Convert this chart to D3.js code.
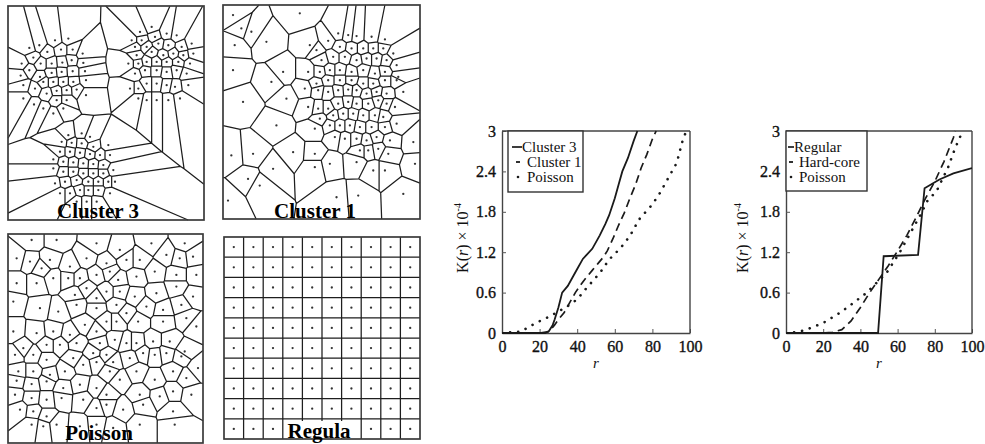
<!DOCTYPE html>
<html><head><meta charset="utf-8">
<script src="https://cdn.jsdelivr.net/npm/d3@7"></script>
<style>
body{margin:0;background:#fff}
svg{display:block}
text{font-family:"Liberation Serif","Times New Roman",serif;fill:#111}
</style>
</head><body>
<svg id="c" width="985" height="444"></svg>
<script>
// ---------- point patterns (units: digitised sheet coordinates) ----------
const cluster3Points = [
[88,143],[118,135],[165,120],[205,115],[142,155],[183,148],[218,148],[248,160],
[65,190],[100,172],[122,190],[155,190],[187,187],[215,180],[250,188],
[88,210],[120,230],[155,218],[185,215],[218,213],[255,213],
[62,226],[70,255],[105,265],[130,245],[160,245],[190,245],[220,245],[258,240],
[140,280],[170,272],[200,270],[230,268],[258,285],
[70,295],[102,313],[130,325],[170,300],[200,300],[160,340],[190,325],
[420,95],[455,80],[425,120],[465,110],[500,100],[530,105],[395,120],
[405,140],[440,140],[475,130],[505,135],[545,140],[575,130],
[410,165],[455,155],[490,165],[520,160],[550,165],[580,160],
[385,190],[415,190],[440,185],[470,185],[500,185],[535,185],[570,190],
[405,220],[435,210],[470,210],[500,215],[530,210],[560,220],
[390,265],[415,265],[440,250],[470,250],[500,255],[525,260],[565,255],
[415,295],[440,300],[470,300],[505,300],[540,295],
[245,400],[270,410],[205,405],
[185,425],[215,428],[245,430],[280,440],[325,435],
[180,455],[210,455],[240,458],[270,462],[300,465],[330,465],
[160,478],[190,485],[220,487],[250,490],[280,492],[310,495],
[160,505],[190,515],[220,515],[250,520],[280,520],[310,520],[340,510],
[165,550],[195,545],[230,540],[265,545],[295,545],[325,545],[345,545],
[180,580],[210,580],[240,570],[265,570],[295,570],[330,580],
[230,605],[260,605],[290,605]
];
const cluster1Points = [
[40,45],[240,40],[65,85],[95,95],[45,135],[140,125],[190,215],[40,210],[155,245],
[70,305],[200,295],[170,375],[35,465],[100,460],[220,455],[160,505],[120,555],
[85,535],[25,600],[285,500],[330,490],[350,590],[410,485],[460,510],[495,510],
[580,425],[585,490],[415,585],[550,580],[285,460],
[355,100],[385,105],[410,108],[455,110],[495,118],
[270,135],[325,122],[290,150],[360,140],[395,145],[430,145],[460,145],[490,145],[520,160],
[305,180],[340,170],[375,170],[410,180],[440,175],[470,175],[500,180],[530,195],
[265,215],[300,215],[330,210],[360,210],[395,215],[430,210],[465,220],[495,215],[535,230],
[255,265],[290,250],[325,240],[360,240],[395,240],[430,250],[460,250],[495,240],[530,240],
[295,270],[325,275],[355,270],[385,268],[410,270],[440,280],[470,275],[500,280],[550,275],
[265,320],[295,325],[325,325],[355,310],[385,305],[410,310],[445,310],[475,300],[500,310],[525,320],
[300,355],[340,345],[370,340],[400,340],[430,345],[465,345],[490,350],
[285,385],[330,375],[360,375],[390,375],[420,380],[455,380],[495,380],[530,370],
[345,410],[375,415],[410,415],[440,420],[470,410],[510,420],
[420,450],[445,450],[475,445],[505,460]
];
const poissonPoints = [
[95,45],[170,45],[290,55],[360,75],[455,55],[555,55],
[50,100],[90,110],[150,105],[210,125],[260,100],[320,115],[380,105],[420,105],[500,90],[540,100],[580,95],
[125,130],[160,160],[205,160],[240,160],[290,150],[330,140],[355,165],[410,155],[465,140],[530,150],[590,150],
[50,175],[110,175],[225,210],[260,190],[290,220],[320,200],[360,200],[405,215],[470,205],[530,185],[580,215],
[40,230],[120,250],[175,260],[230,240],[290,250],[350,240],[380,265],[440,245],[490,255],[545,240],
[40,320],[110,325],[160,320],[210,330],[255,300],[290,320],[320,290],[350,290],[415,290],[490,290],[560,280],[590,305],
[70,370],[140,360],[180,360],[230,355],[300,355],
[345,345],[380,355],[410,355],[460,350],[510,350],[555,380],
[45,390],[100,390],[140,405],[220,400],[280,385],[320,390],[340,412],[390,400],[430,385],[465,390],[500,385],[545,395],[595,430],
[55,440],[100,440],[150,450],[195,440],[250,420],[290,412],[330,440],[360,465],[410,440],[465,465],[520,440],[560,460],
[50,468],[95,478],[140,470],[190,490],[240,480],[290,490],[320,510],[420,510],[480,515],[520,500],[575,510],
[45,510],[95,520],[140,525],[185,520],[250,525],[290,550],[320,540],[370,555],[430,540],[520,560],
[60,555],[100,560],[140,575],[95,600],[130,605],[170,600],[240,605],[290,600],[340,610],[420,600],[525,600]
];
const regularCols = [0.5,1.5,2.5,3.5,4.5,5.5,6.5,7.5,8.5,9.5];
const regularRows = [0.5,1.5,2.5,3.5,4.5,5.5,6.5,7.5,8.5,9.5];

const panelLabels = ["Cluster 3","Cluster 1","Poisson","Regula"];

// ---------- K-function curves ----------
const rC3 = [0,10,20,23,25,27,28,30,32,35,38,40,43,45,48,52,55,57,60,62,64,67,70,72];
const kC3 = [0,0,0,0,0.03,0.12,0.2,0.38,0.6,0.7,0.85,0.95,1.1,1.16,1.25,1.45,1.62,1.75,2.0,2.2,2.4,2.6,2.85,3.0];
const rC1 = [0,10,20,25,28,30,33,36,39,42,45,48,51,54,56,59,62,65,68,71,74,77,80,82];
const kC1 = [0,0,0,0.02,0.12,0.2,0.3,0.45,0.6,0.72,0.83,0.93,1.03,1.13,1.22,1.4,1.6,1.78,2.0,2.2,2.45,2.65,2.88,3.0];
const rP1 = [0,10,18,25,30,35,40,45,52,57,63,68,73,80,84,88,93,96,98];
const kP1 = [0,0.02,0.15,0.24,0.32,0.4,0.5,0.67,0.89,1.09,1.26,1.44,1.69,1.91,2.08,2.28,2.53,2.85,3.0];

const rReg = [0,49.5,52.5,71,74.5,82.5,90,100];
const kReg = [0,0,1.14,1.16,2.15,2.28,2.37,2.45];
const rHC = [0,20,25,30,35,40,45,50,55,60,65,70,75,80,85,90,91];
const kHC = [0,0,0.01,0.05,0.18,0.38,0.6,0.8,1.0,1.22,1.45,1.72,2.0,2.25,2.55,2.9,3.0];
const rP2 = [0,5,10,20,29,34,43,54,61,72,76,81,87,91,95];
const kP2 = [0,0.01,0.04,0.15,0.3,0.4,0.59,0.89,1.19,1.74,1.96,2.11,2.45,2.75,3.0];

const xTicks = [0,20,40,60,80,100];
const yTicks = [0,0.6,1.2,1.8,2.4,3];
const yTickLabels = ["0","0.6","1.2","1.8","2.4","3"];
const legend1 = ["Cluster 3","Cluster 1","Poisson"];
const legend2 = ["Regular","Hard-core","Poisson"];

const svg = d3.select("#c");

// ---------- Voronoi panels ----------
function voronoiPanel(points, dom, box, label, bg) {
  const x = d3.scaleLinear().domain(dom.x).range([box.x0, box.x1]);
  const y = d3.scaleLinear().domain(dom.y).range([box.y0, box.y1]);
  const pts = points.map(p => [x(p[0]), y(p[1])]);
  const vor = d3.Delaunay.from(pts).voronoi([box.x0, box.y0, box.x1, box.y1]);
  const g = svg.append("g");
  g.append("path").attr("d", vor.render()).attr("fill","none")
    .attr("stroke","#1e1e1e").attr("stroke-width",1.25);
  g.append("rect").attr("x",box.x0).attr("y",box.y0)
    .attr("width",box.x1-box.x0).attr("height",box.y1-box.y0)
    .attr("fill","none").attr("stroke","#3a3a3a").attr("stroke-width",1.7);
  g.selectAll("circle").data(pts).join("circle")
    .attr("cx",d=>d[0]).attr("cy",d=>d[1]).attr("r",1.15).attr("fill","#333");
  const t = g.append("text").attr("x",box.lx).attr("y",box.ly)
    .attr("text-anchor","middle").attr("font-size",21).attr("font-weight","bold")
    .style("fill","#000").text(label);
  if (bg) {
    const bb = t.node().getBBox();
    g.insert("rect", "text").attr("x",bb.x-2).attr("y",bb.y+2)
      .attr("width",bb.width+4).attr("height",box.y1-bb.y-3).attr("fill","#fff");
  }
}

voronoiPanel(cluster3Points, {x:[24,612], y:[17,660]},
  {x0:8,x1:204,y0:6,y1:220,lx:98,ly:218}, panelLabels[0]);
voronoiPanel(cluster1Points, {x:[10,600], y:[15,655]},
  {x0:223,x1:420,y0:5,y1:219,lx:315,ly:218}, panelLabels[1]);
voronoiPanel(poissonPoints, {x:[24,610], y:[27,655]},
  {x0:8,x1:203,y0:234,y1:443,lx:99,ly:440}, panelLabels[2]);
const regPts = [];
regularRows.forEach(r => regularCols.forEach(c => regPts.push([c, r])));
voronoiPanel(regPts, {x:[0,10], y:[0,10]},
  {x0:224,x1:420,y0:237,y1:439,lx:319,ly:438}, panelLabels[3], true);

// ---------- K(r) charts ----------
function kChart(o) {
  const x = d3.scaleLinear().domain([0,100]).range([o.x0, o.x1]);
  const y = d3.scaleLinear().domain([0,3]).range([333, 131]);
  const g = svg.append("g");
  const cid = "clip" + o.id;
  svg.append("clipPath").attr("id",cid).append("rect")
    .attr("x",o.x0).attr("y",130).attr("width",o.x1-o.x0).attr("height",204);

  const ax = g.append("g").attr("transform","translate(0,333)")
    .call(d3.axisBottom(x).tickValues(xTicks).tickSizeInner(-4).tickSizeOuter(0).tickPadding(8));
  const ay = g.append("g").attr("transform",`translate(${o.x0},0)`)
    .call(d3.axisLeft(y).tickValues(yTicks).tickFormat((d,i)=>yTickLabels[i])
      .tickSizeInner(-4).tickSizeOuter(0).tickPadding(6));
  [ax, ay].forEach(a => {
    a.select(".domain").attr("stroke","#444").attr("stroke-width",1.4);
    a.selectAll(".tick line").attr("stroke","#555");
    a.selectAll(".tick text").attr("font-size",16).attr("font-family","Liberation Serif, serif")
      .style("fill","#111").style("stroke","#111").style("stroke-width","0.35px");
  });
  g.append("line").attr("x1",o.x0).attr("x2",o.x1).attr("y1",y(3)).attr("y2",y(3))
    .attr("stroke","#444").attr("stroke-width",1.4);
  g.append("line").attr("x1",o.x1).attr("x2",o.x1).attr("y1",y(3)).attr("y2",y(0))
    .attr("stroke","#444").attr("stroke-width",1.4);

  const line = d3.line().x(d=>x(d[0])).y(d=>y(d[1]));
  const styles = [
    {dash:null, w:1.8, cap:"butt"},
    {dash:"8,5", w:1.7, cap:"butt"},
    {dash:"0.1,8", w:2.6, cap:"round"}
  ];
  o.series.forEach((s, i) => {
    const data = s.r.map((r,j)=>[r, s.k[j]]);
    g.append("path").attr("d", line(data)).attr("clip-path",`url(#${cid})`)
      .attr("fill","none").attr("stroke","#1a1a1a").attr("stroke-width",styles[i].w)
      .attr("stroke-dasharray",styles[i].dash).attr("stroke-linecap",styles[i].cap);
  });

  // legend
  const L = o.legend;
  g.append("rect").attr("x",L.x).attr("y",L.y).attr("width",L.w).attr("height",L.h)
    .attr("fill","#fff").attr("stroke","#333").attr("stroke-width",1.4);
  o.labels.forEach((lab,i) => {
    const yy = L.y + 21 + i*15;
    if (i===0) g.append("line").attr("x1",L.x+L.lx0).attr("x2",L.x+L.tx).attr("y1",yy-5).attr("y2",yy-5)
      .attr("stroke","#1a1a1a").attr("stroke-width",1.7);
    if (i===1) g.append("line").attr("x1",L.x+L.sx-2).attr("x2",L.x+L.sx+2).attr("y1",yy-5).attr("y2",yy-5)
      .attr("stroke","#1a1a1a").attr("stroke-width",1.8);
    if (i===2) g.append("circle").attr("cx",L.x+L.sx).attr("cy",yy-5).attr("r",1.3).attr("fill","#1a1a1a");
    g.append("text").attr("x",L.x+L.tx+(i>0?5:0)).attr("y",yy).attr("font-size",15).text(lab);
  });

  // axis titles
  g.append("text").attr("x",(o.x0+o.x1)/2).attr("y",368).attr("text-anchor","middle")
    .attr("font-size",15).attr("font-style","italic").text("r");
  const yl = g.append("text").attr("transform",`translate(${o.ylx},238) rotate(-90)`)
    .attr("text-anchor","middle").attr("font-size",16);
  yl.append("tspan").text("K(");
  yl.append("tspan").attr("font-style","italic").text("r");
  yl.append("tspan").text(") × 10");
  yl.append("tspan").attr("font-size",10).attr("dy",-7).text("-4");
}

kChart({id:1, x0:502, x1:690, ylx:468,
  series:[{r:rC3,k:kC3},{r:rC1,k:kC1},{r:rP1,k:kP1}],
  labels:legend1, legend:{x:508,y:131,w:75,h:61,lx0:4,sx:10,tx:14}});
kChart({id:2, x0:786, x1:972, ylx:748,
  series:[{r:rReg,k:kReg},{r:rHC,k:kHC},{r:rP2,k:kP2}],
  labels:legend2, legend:{x:786,y:131,w:81,h:60,lx0:2,sx:5,tx:8}});
</script>
</body></html>
